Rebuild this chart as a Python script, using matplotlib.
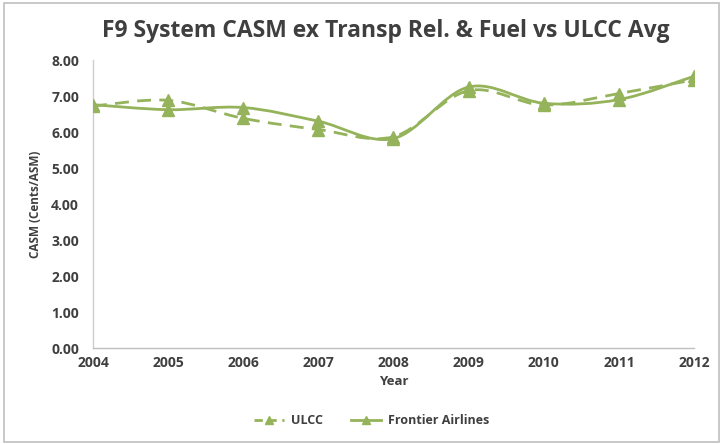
import matplotlib
matplotlib.use('Agg')
import matplotlib.pyplot as plt
from matplotlib.path import Path
from matplotlib.patches import PathPatch, Rectangle
from matplotlib.lines import Line2D
import numpy as np

years = [2004, 2005, 2006, 2007, 2008, 2009, 2010, 2011, 2012]
ulcc = [6.72, 6.88, 6.38, 6.07, 5.87, 7.15, 6.75, 7.07, 7.45]
frontier = [6.76, 6.62, 6.68, 6.30, 5.82, 7.25, 6.80, 6.90, 7.55]
yticks = [0, 1, 2, 3, 4, 5, 6, 7, 8]

green = '#94b35a'
txt = '#3f3f3f'

plt.rcParams['font.family'] = ['Open Sans', 'DejaVu Sans']


def smooth_path(x, y):
    # Excel-style smoothed line: Catmull-Rom turned into cubic Bezier pieces
    p = np.column_stack([x, y]).astype(float)
    n = len(p)
    verts = [p[0]]
    codes = [Path.MOVETO]
    for i in range(n - 1):
        p0 = p[i - 1] if i > 0 else p[i]
        p3 = p[i + 2] if i + 2 < n else p[i + 1]
        c1 = p[i] + (p[i + 1] - p0) / 6
        c2 = p[i + 1] - (p3 - p[i]) / 6
        verts += [c1, c2, p[i + 1]]
        codes += [Path.CURVE4] * 3
    return Path(verts, codes)


fig = plt.figure(figsize=(7.22, 4.44), dpi=100)
ax = fig.add_axes([0.1288, 0.2162, 0.8324, 0.6486])

for vals, ls in [(ulcc, (0, (5, 3))), (frontier, '-')]:
    ax.add_patch(PathPatch(smooth_path(years, vals), facecolor='none',
                           edgecolor=green, lw=2, linestyle=ls, zorder=2))
    ax.plot(years, vals, linestyle='none', marker='^', markersize=8,
            color=green, zorder=3)

ax.set_xlim(2004, 2012)
ax.set_ylim(0, 8)
ax.set_xticks(years)
ax.set_yticks(yticks)
ax.set_yticklabels([f'{v:.2f}' for v in yticks])
ax.tick_params(length=0, labelsize=10, colors=txt)
ax.yaxis.set_tick_params(pad=10)
ax.xaxis.set_tick_params(pad=6)
for lab in ax.get_xticklabels() + ax.get_yticklabels():
    lab.set_fontweight('bold')

for s in ['top', 'right']:
    ax.spines[s].set_visible(False)
ax.spines['left'].set_color('#d9c7cc')
ax.spines['bottom'].set_color('#bfbfbf')
ax.spines['left'].set_linewidth(1)
ax.spines['bottom'].set_linewidth(1)

ax.set_ylabel('CASM (Cents/ASM)', fontsize=8.5, fontweight='bold', color=txt, labelpad=7)
ax.set_xlabel('Year', fontsize=9.5, fontweight='bold', color=txt, labelpad=3)

fig.text(0.535, 0.93, 'F9 System CASM ex Transp Rel. & Fuel vs ULCC Avg',
         ha='center', va='center', fontsize=16.5, fontweight='bold', color=txt)

handles = [Line2D([], [], color=green, lw=2, ls=(0, (3, 2)), marker='^', markersize=6),
           Line2D([], [], color=green, lw=2, ls='-', marker='^', markersize=6)]
leg = fig.legend(handles, ['ULCC', 'Frontier Airlines'], loc='center',
                 bbox_to_anchor=(0.515, 0.052), ncol=2, frameon=False,
                 prop={'size': 9, 'weight': 'bold'}, handlelength=2.4,
                 handletextpad=0.6, columnspacing=2.2)
for t in leg.get_texts():
    t.set_color(txt)

fig.patches.append(Rectangle((0.006, 0.004), 0.99, 0.99, transform=fig.transFigure,
                             fill=False, edgecolor='#bfbfbf', lw=1.2))

fig.savefig('out.png', dpi=100)
